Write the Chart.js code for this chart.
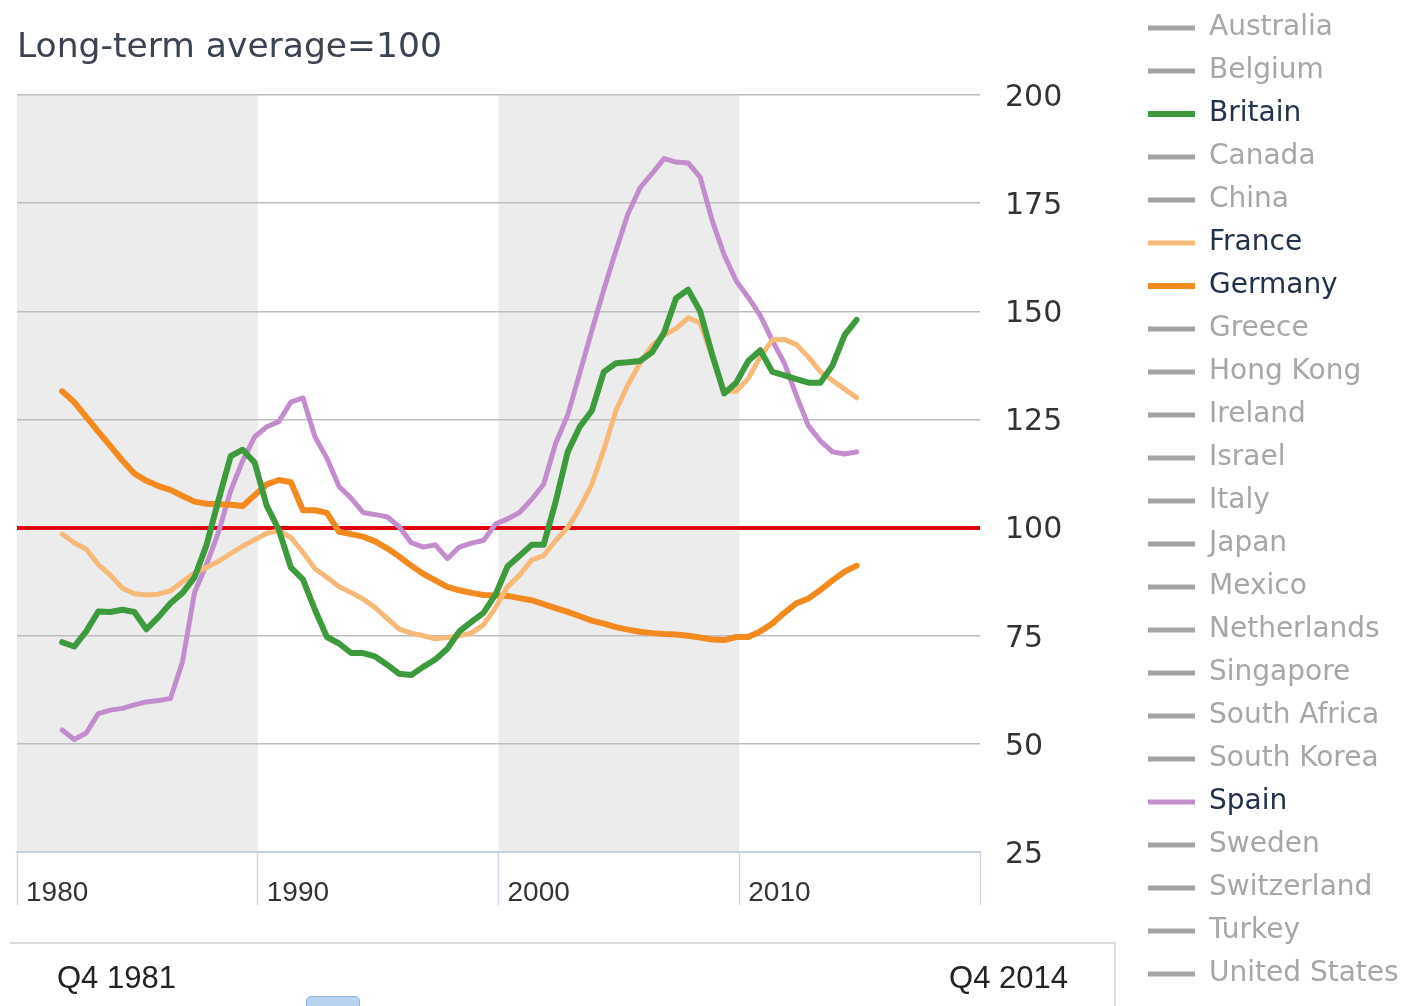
<!DOCTYPE html>
<html>
<head>
<meta charset="utf-8">
<title>House prices</title>
<script src="https://cdn.jsdelivr.net/npm/chart.js@4.4.1/dist/chart.umd.min.js"></script>
<style>
  body { margin: 0; background: #fff; }
  #wrap { position: relative; width: 1401px; height: 1006px; overflow: hidden; }
  #slider {
    position: absolute; left: 10px; top: 942px; width: 1104px; height: 70px;
    border-top: 2px solid #dcdcdc; border-right: 2px solid #dcdcdc;
    font-family: "Liberation Sans", Arial, sans-serif; font-size: 31px; color: #222;
  }
  #slider .from { position: absolute; left: 47px; top: 16px; }
  #slider .to { position: absolute; right: 46px; top: 16px; }
  #slider .handle {
    position: absolute; left: 296px; top: 52px; width: 52px; height: 20px;
    background: #b7d3ef; border: 1px solid #8fb4dc; border-radius: 5px;
  }
</style>
</head>
<body>
<div id="wrap">
  <canvas id="houseChart" width="1401" height="1006"></canvas>
  <div id="slider">
    <span class="from">Q4 1981</span>
    <span class="to">Q4 2014</span>
    <div class="handle"></div>
  </div>
</div>
<script>
// Half-yearly readings, Q4 1981 -> Q4 2014 (decimal years)
const periods = [];
for (let y = 1981.875; y <= 2014.9; y += 0.5) periods.push(y);

const countries = ['Australia', 'Belgium', 'Britain', 'Canada', 'China', 'France', 'Germany',
  'Greece', 'Hong Kong', 'Ireland', 'Israel', 'Italy', 'Japan', 'Mexico', 'Netherlands',
  'Singapore', 'South Africa', 'South Korea', 'Spain', 'Sweden', 'Switzerland', 'Turkey',
  'United States'];

const britain = [73.5, 72.5, 76, 80.6, 80.5, 81, 80.5, 76.5, 79.3, 82.5, 84.9, 88.5, 96, 106.5,
  116.5, 118, 115, 105, 99.5, 90.8, 88, 81, 74.7, 73.2, 71, 71, 70.2, 68.3, 66.2, 65.9, 67.8,
  69.5, 72, 76, 78.2, 80.3, 84.5, 91, 93.5, 96, 96, 106, 117.5, 123.3, 127, 136, 138, 138.2,
  138.5, 140.5, 145, 153, 155, 150, 140, 131, 133.5, 138.5, 141, 136, 135.2, 134.3, 133.5,
  133.5, 137.5, 144.5, 148];

const france = [98.5, 96.5, 95, 91.5, 89, 86, 84.7, 84.4, 84.6, 85.4, 87.5, 89.5, 90.8, 92.2,
  94, 95.7, 97.2, 98.7, 99.3, 97.7, 94.3, 90.5, 88.5, 86.3, 85, 83.5, 81.5, 79, 76.5, 75.6, 75,
  74.3, 74.6, 75, 75.6, 77.5, 81.5, 86.3, 89, 92.5, 93.5, 97, 100, 104.5, 110, 118, 127, 133,
  138, 142, 144.5, 146, 148.5, 147.3, 139.5, 131.5, 131.5, 134.5, 139.5, 143.4, 143.5, 142.3,
  139.4, 136, 134, 132, 130];

const germany = [131.5, 129, 125.6, 122.2, 118.9, 115.5, 112.5, 110.8, 109.6, 108.7, 107.3, 106,
  105.5, 105.4, 105.3, 105, 107.5, 110, 111, 110.5, 104, 104, 103.4, 99, 98.5, 97.9, 96.8, 95.2,
  93.3, 91.2, 89.3, 87.8, 86.3, 85.5, 84.9, 84.4, 84.3, 84.2, 83.7, 83.2, 82.3, 81.4, 80.5, 79.5,
  78.5, 77.8, 77, 76.4, 75.9, 75.6, 75.4, 75.3, 75, 74.6, 74.1, 74, 74.7, 74.7, 76, 77.8, 80.3,
  82.5, 83.6, 85.6, 87.8, 89.8, 91.2];

const spain = [53.2, 51, 52.5, 57, 57.8, 58.2, 59, 59.7, 60, 60.5, 69, 85, 91.5, 99, 108.5, 115.5,
  121, 123.3, 124.5, 129, 130, 121, 116, 109.5, 106.8, 103.5, 103, 102.5, 100.2, 96.5, 95.5, 96,
  92.8, 95.5, 96.4, 97, 100.8, 102, 103.5, 106.5, 110, 119.5, 126, 135.7, 145.5, 155, 164, 172.5,
  178.5, 181.8, 185.3, 184.5, 184.3, 181, 171, 163, 157, 153.2, 149, 143.2, 138, 130.5, 123.5,
  120, 117.5, 117, 117.5];

const seriesByCountry = { Britain: britain, France: france, Germany: germany, Spain: spain };
const lineColors = { Britain: '#3d9a3d', France: '#f6b978', Germany: '#f28a1f', Spain: '#c38ccc' };
const lineWidths = { Britain: 6, France: 5, Germany: 6, Spain: 5 };

const yTicks = [25, 50, 75, 100, 125, 150, 175, 200];
const xTicks = [1980, 1990, 2000, 2010];
const shadedRanges = [[1980, 1990], [2000, 2010]];
const baseline = 100;

const datasets = countries.map(name => {
  const values = seriesByCountry[name] || [];
  return {
    label: name,
    data: values.map((v, i) => ({ x: periods[i], y: v })),
    borderColor: lineColors[name] || '#a3a3a3',
    backgroundColor: lineColors[name] || '#a3a3a3',
    borderWidth: lineWidths[name] || 5,
    pointRadius: 0,
    tension: 0,
    borderJoinStyle: 'round',
    borderCapStyle: 'round'
  };
});

// grey bands behind the 1980s and 2000s
const decadeShading = {
  id: 'decadeShading',
  beforeDraw(chart) {
    const { ctx, chartArea, scales: { x } } = chart;
    ctx.save();
    ctx.fillStyle = '#ececec';
    shadedRanges.forEach(([a, b]) => {
      const x0 = x.getPixelForValue(a);
      const x1 = x.getPixelForValue(b);
      ctx.fillRect(x0, chartArea.top, x1 - x0, chartArea.bottom - chartArea.top);
    });
    ctx.restore();
  }
};

// fixed legend column on the right
const legendColumn = {
  id: 'legendColumn',
  beforeInit(chart) {
    const fit = chart.legend.fit;
    chart.legend.fit = function () {
      fit.call(this);
      this.width = 268;
    };
  },
  afterLayout(chart) {
    chart.legend.top -= 1;
  }
};

new Chart(document.getElementById('houseChart'), {
  type: 'line',
  data: { datasets: datasets },
  plugins: [decadeShading, legendColumn],
  options: {
    responsive: false,
    animation: false,
    devicePixelRatio: 1,
    layout: { padding: { left: 17, top: 0, right: 0, bottom: 0 } },
    scales: {
      x: {
        type: 'linear',
        min: 1980,
        max: 2020,
        afterFit(scale) { scale.height = 154; },
        afterBuildTicks(scale) {
          scale.ticks = xTicks.concat([2020]).map(v => ({ value: v }));
        },
        grid: {
          drawOnChartArea: false,
          drawTicks: true,
          tickLength: 53,
          tickColor: '#cdd8e6',
          tickWidth: 1.5
        },
        border: { display: true, color: '#c6d2e2', width: 2 },
        ticks: {
          align: 'start',
          labelOffset: 9,
          padding: -29,
          color: '#333',
          font: { family: '"Liberation Sans", Arial, sans-serif', size: 28 },
          callback: v => (xTicks.includes(v) ? String(v) : '')
        }
      },
      y: {
        position: 'right',
        min: 25,
        max: 200,
        afterFit(scale) { scale.width = 153; },
        afterBuildTicks(scale) {
          scale.ticks = yTicks.map(v => ({ value: v }));
        },
        border: { display: false },
        grid: {
          drawTicks: false,
          color: c => (c.tick.value === baseline ? '#e2000e' : c.tick.value === 25 ? 'rgba(0,0,0,0)' : '#bdbdbd'),
          lineWidth: c => (c.tick.value === baseline ? 4 : 1.5)
        },
        ticks: {
          padding: 25,
          labelOffset: 3,
          color: '#333',
          font: { family: '"DejaVu Sans", Verdana, sans-serif', size: 30 },
          callback: v => String(v)
        }
      }
    },
    plugins: {
      title: {
        display: true,
        text: 'Long-term average=100',
        align: 'start',
        fullSize: false,
        color: '#3a4352',
        font: { family: '"DejaVu Sans", Verdana, sans-serif', size: 34.5, weight: 'normal' },
        padding: { top: 27, bottom: 26.6 }
      },
      legend: {
        position: 'right',
        align: 'start',
        onClick: null,
        labels: {
          usePointStyle: true,
          pointStyle: 'line',
          pointStyleWidth: 47,
          padding: 15,
          font: { family: '"DejaVu Sans", Verdana, sans-serif', size: 28 },
          generateLabels(chart) {
            const items = Chart.defaults.plugins.legend.labels.generateLabels(chart);
            items.forEach(item => {
              item.fontColor = seriesByCountry[item.text] ? '#22324a' : '#a7a7a7';
            });
            return items;
          }
        }
      },
      tooltip: { enabled: false }
    }
  }
});
</script>
</body>
</html>
